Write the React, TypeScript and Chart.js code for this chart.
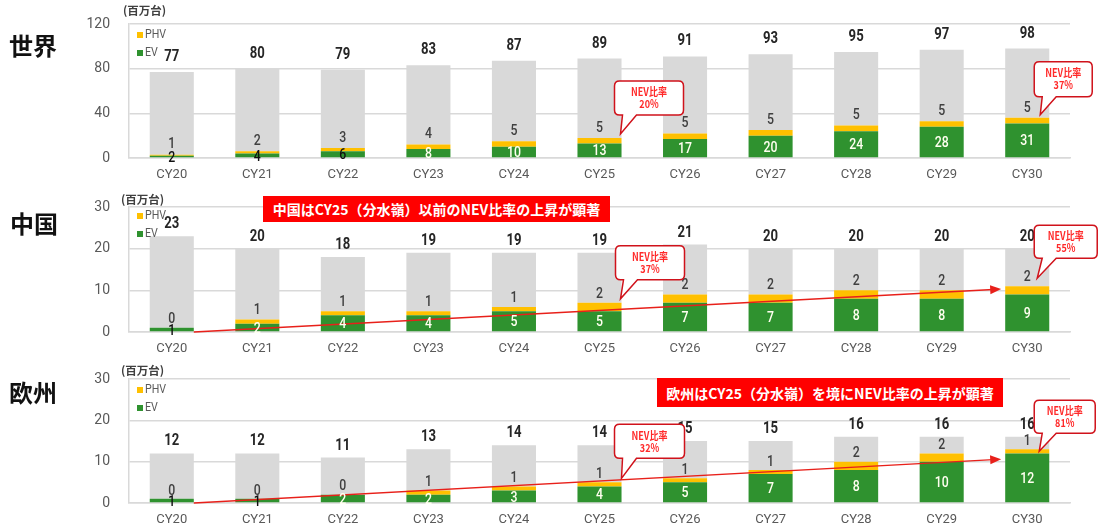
import React, { useEffect, useRef } from "react";
import { Chart, registerables } from "chart.js";

Chart.register(...registerables);

// ---------- data ----------
const categories = ["CY20", "CY21", "CY22", "CY23", "CY24", "CY25", "CY26", "CY27", "CY28", "CY29", "CY30"];

const worldTotal = [77, 80, 79, 83, 87, 89, 91, 93, 95, 97, 98];
const worldPHV = [1, 2, 3, 4, 5, 5, 5, 5, 5, 5, 5];
const worldEV = [2, 4, 6, 8, 10, 13, 17, 20, 24, 28, 31];

const chinaTotal = [23, 20, 18, 19, 19, 19, 21, 20, 20, 20, 20];
const chinaPHV = [0, 1, 1, 1, 1, 2, 2, 2, 2, 2, 2];
const chinaEV = [1, 2, 4, 4, 5, 5, 7, 7, 8, 8, 9];

const europeTotal = [12, 12, 11, 13, 14, 14, 15, 15, 16, 16, 16];
const europePHV = [0, 0, 0, 1, 1, 1, 1, 1, 2, 2, 1];
const europeEV = [1, 1, 2, 2, 3, 4, 5, 7, 8, 10, 12];

const worldNevRatio = ["20%", "37%"]; // CY25, CY30
const chinaNevRatio = ["37%", "55%"];
const europeNevRatio = ["32%", "81%"];

const chinaArrowEnd = 10.3; // value level at CY30 where the trend arrow ends
const europeArrowEnd = 10.6;

const chinaBanner = "中国はCY25（分水嶺）以前のNEV比率の上昇が顕著";
const europeBanner = "欧州はCY25（分水嶺）を境にNEV比率の上昇が顕著";

// ---------- styles ----------
const GREEN = "#2F922F";
const YELLOW = "#FFC000";
const GRAY = "#D9D9D9";
const GRID = "#D9D9D9";
const TICK = "#595959";
const SANS = "Roboto, 'Noto Sans', sans-serif";
const CJK = "'Noto Sans CJK JP','Noto Sans CJK SC',sans-serif";
const SQUEEZE = 0.82;

type Callout = { idx: number; text: string[]; dx: number; dy: number; w: number; h: number; tipDx: number; tipDy: number };
type Panel = {
  canvasTop: number;
  height: number;
  areaTop: number;
  areaBottom: number;
  yMax: number;
  yStep: number;
  total: number[];
  phv: number[];
  ev: number[];
  totalOffset: number;
  phvOffset: number;
  legendDy: number;
  callouts: Callout[];
  arrowEnd?: number;
};

// plot area (page coords): world 24-158, china 207-332, europe 379-503
const panels: Panel[] = [
  {
    canvasTop: -4, height: 190, areaTop: 28, areaBottom: 162, yMax: 120, yStep: 40,
    total: worldTotal, phv: worldPHV, ev: worldEV, totalOffset: 15, phvOffset: 10, legendDy: 11,
    callouts: [
      { idx: 5, text: ["NEV比率", worldNevRatio[0]], dx: 15, dy: -57, w: 69, h: 34, tipDx: 21, tipDy: -4 },
      { idx: 10, text: ["NEV比率", worldNevRatio[1]], dx: 7, dy: -56, w: 58, h: 35, tipDx: 13, tipDy: -3 },
    ],
  },
  {
    canvasTop: 179, height: 181, areaTop: 28, areaBottom: 153, yMax: 30, yStep: 10,
    total: chinaTotal, phv: chinaPHV, ev: chinaEV, totalOffset: 12, phvOffset: 9, legendDy: 9,
    callouts: [
      { idx: 5, text: ["NEV比率", chinaNevRatio[0]], dx: 16, dy: -57, w: 69, h: 34, tipDx: 21, tipDy: -4 },
      { idx: 10, text: ["NEV比率", chinaNevRatio[1]], dx: 7, dy: -61, w: 63, h: 33, tipDx: 10, tipDy: -8 },
    ],
    arrowEnd: chinaArrowEnd,
  },
  {
    canvasTop: 351, height: 180, areaTop: 28, areaBottom: 152, yMax: 30, yStep: 10,
    total: europeTotal, phv: europePHV, ev: europeEV, totalOffset: 12, phvOffset: 8, legendDy: 11,
    callouts: [
      { idx: 5, text: ["NEV比率", europeNevRatio[0]], dx: 15, dy: -58, w: 70, h: 34, tipDx: 22, tipDy: -4 },
      { idx: 10, text: ["NEV比率", europeNevRatio[1]], dx: 7, dy: -49, w: 61, h: 33, tipDx: 12, tipDy: 2 },
    ],
    arrowEnd: europeArrowEnd,
  },
];

function squeezeText(ctx: CanvasRenderingContext2D, text: string, x: number, y: number, sx = SQUEEZE) {
  ctx.save();
  ctx.translate(x, y);
  ctx.scale(sx, 1);
  ctx.fillText(text, 0, 0);
  ctx.restore();
}

function overlayPlugin(p: Panel) {
  return {
    id: "overlay",
    afterDatasetsDraw(chart: any) {
      const ctx = chart.ctx as CanvasRenderingContext2D;
      const xs = chart.scales.x;
      const ys = chart.scales.y;
      const area = chart.chartArea;
      const meta = chart.getDatasetMeta(0);
      const barW = meta.data[0] ? meta.data[0].width : 44;

      // trend arrow
      if (p.arrowEnd !== undefined) {
        const x0 = xs.getPixelForValue(0) + barW / 2;
        const y0 = ys.getPixelForValue(0);
        const x1 = xs.getPixelForValue(categories.length - 1) - barW / 2 - 4;
        const y1 = ys.getPixelForValue(p.arrowEnd);
        const ang = Math.atan2(y1 - y0, x1 - x0);
        ctx.save();
        ctx.strokeStyle = "#E8201A";
        ctx.fillStyle = "#E8201A";
        ctx.lineWidth = 1.3;
        ctx.beginPath();
        ctx.moveTo(x0, y0);
        ctx.lineTo(x1 - 8 * Math.cos(ang), y1 - 8 * Math.sin(ang));
        ctx.stroke();
        ctx.beginPath();
        ctx.moveTo(x1, y1);
        ctx.lineTo(x1 - 11 * Math.cos(ang) + 4.5 * Math.sin(ang), y1 - 11 * Math.sin(ang) - 4.5 * Math.cos(ang));
        ctx.lineTo(x1 - 11 * Math.cos(ang) - 4.5 * Math.sin(ang), y1 - 11 * Math.sin(ang) + 4.5 * Math.cos(ang));
        ctx.closePath();
        ctx.fill();
        ctx.restore();
      }

      // value labels
      ctx.save();
      ctx.textAlign = "center";
      ctx.textBaseline = "middle";
      for (let i = 0; i < categories.length; i++) {
        const x = xs.getPixelForValue(i);
        const y0 = ys.getPixelForValue(0);
        const yEv = ys.getPixelForValue(p.ev[i]);
        const yPhv = ys.getPixelForValue(p.ev[i] + p.phv[i]);
        const yTot = ys.getPixelForValue(p.total[i]);
        ctx.font = `500 15px ${SANS}`;
        ctx.fillStyle = y0 - yEv >= 8 ? "#FFFFF0" : "#111111";
        squeezeText(ctx, String(p.ev[i]), x, (y0 + yEv) / 2 + 1);
        ctx.fillStyle = "#404040";
        squeezeText(ctx, String(p.phv[i]), x, yPhv - p.phvOffset);
        ctx.font = `bold 16px ${SANS}`;
        ctx.fillStyle = "#262626";
        squeezeText(ctx, String(p.total[i]), x, yTot - p.totalOffset);
      }
      ctx.restore();

      // legend
      ctx.save();
      const lx = area.left + 8;
      const ly = area.top + p.legendDy;
      ctx.font = `13px ${SANS}`;
      ctx.textBaseline = "middle";
      ctx.textAlign = "left";
      ctx.fillStyle = YELLOW;
      ctx.fillRect(lx, ly - 3, 6, 6);
      ctx.fillStyle = GREEN;
      ctx.fillRect(lx, ly + 15, 6, 6);
      ctx.fillStyle = TICK;
      squeezeText(ctx, "PHV", lx + 8, ly);
      squeezeText(ctx, "EV", lx + 8, ly + 18);
      ctx.restore();

      // callouts
      for (const c of p.callouts) {
        const cx = xs.getPixelForValue(c.idx);
        const yTop = ys.getPixelForValue(p.ev[c.idx] + p.phv[c.idx]);
        const bx = cx + c.dx;
        const by = yTop + c.dy;
        const tx = cx + c.tipDx;
        const ty = yTop + c.tipDy;
        const r = 5;
        const bl = bx + 8;
        const br = bx + 22;
        ctx.save();
        ctx.beginPath();
        ctx.moveTo(bx + r, by);
        ctx.lineTo(bx + c.w - r, by);
        ctx.quadraticCurveTo(bx + c.w, by, bx + c.w, by + r);
        ctx.lineTo(bx + c.w, by + c.h - r);
        ctx.quadraticCurveTo(bx + c.w, by + c.h, bx + c.w - r, by + c.h);
        ctx.lineTo(br, by + c.h);
        ctx.lineTo(tx, ty);
        ctx.lineTo(bl, by + c.h);
        ctx.lineTo(bx + r, by + c.h);
        ctx.quadraticCurveTo(bx, by + c.h, bx, by + c.h - r);
        ctx.lineTo(bx, by + r);
        ctx.quadraticCurveTo(bx, by, bx + r, by);
        ctx.closePath();
        ctx.fillStyle = "#FFFFFF";
        ctx.fill();
        ctx.strokeStyle = "#D0121B";
        ctx.lineWidth = 1.5;
        ctx.stroke();
        ctx.fillStyle = "#FF2A2A";
        ctx.font = `bold 11px ${CJK}`;
        ctx.textAlign = "center";
        ctx.textBaseline = "middle";
        squeezeText(ctx, c.text[0], bx + c.w / 2, by + c.h / 2 - 6, 0.82);
        squeezeText(ctx, c.text[1], bx + c.w / 2, by + c.h / 2 + 6, 0.82);
        ctx.restore();
      }
    },
  };
}

function PanelChart({ p }: { p: Panel }) {
  const ref = useRef<HTMLCanvasElement | null>(null);
  useEffect(() => {
    if (!ref.current) return;
    const other = p.total.map((t, i) => t - p.ev[i] - p.phv[i]);
    const common = { stack: "s", barPercentage: 0.515, categoryPercentage: 1 };
    const xH = p.height - p.areaBottom;
    const chart = new Chart(ref.current, {
      type: "bar",
      data: {
        labels: categories,
        datasets: [
          { label: "EV", data: p.ev, backgroundColor: GREEN, ...common },
          { label: "PHV", data: p.phv, backgroundColor: YELLOW, ...common },
          { label: "その他", data: other, backgroundColor: GRAY, ...common },
        ],
      },
      options: {
        animation: false,
        responsive: false,
        maintainAspectRatio: false,
        layout: { padding: { left: 0, right: 31, top: p.areaTop, bottom: 0 } },
        plugins: { legend: { display: false }, tooltip: { enabled: false } },
        scales: {
          x: {
            stacked: true,
            grid: { display: false, drawTicks: false },
            border: { display: true, color: GRID, width: 1.5 },
            ticks: { color: TICK, font: { family: SANS, size: 13 }, padding: 9, maxRotation: 0, autoSkip: false },
            afterFit: (s: any) => {
              s.height = xH;
            },
          },
          y: {
            stacked: true,
            min: 0,
            max: p.yMax,
            ticks: { stepSize: p.yStep, color: TICK, font: { family: SANS, size: 14 }, padding: 19 },
            grid: { color: GRID, lineWidth: 1.5, drawTicks: false },
            border: { display: true, color: GRID, width: 1.5 },
            afterFit: (s: any) => {
              s.width = 129;
            },
          },
        },
      } as any,
      plugins: [overlayPlugin(p)],
    });
    return () => chart.destroy();
  }, [p]);
  return (
    <canvas
      ref={ref}
      width={1101}
      height={p.height}
      style={{ position: "absolute", left: 0, top: p.canvasTop, width: 1101, height: p.height }}
    />
  );
}

const titleStyle: React.CSSProperties = {
  position: "absolute",
  fontFamily: CJK,
  fontWeight: 700,
  fontSize: 24,
  lineHeight: "26px",
  color: "#111",
};
const unitStyle: React.CSSProperties = {
  position: "absolute",
  fontFamily: CJK,
  fontWeight: 700,
  fontSize: 11.5,
  lineHeight: "13px",
  color: "#404040",
  whiteSpace: "nowrap",
};
const bannerStyle: React.CSSProperties = {
  position: "absolute",
  background: "#FF0000",
  color: "#FFFFFF",
  fontFamily: CJK,
  fontWeight: 700,
  fontSize: 14,
  display: "flex",
  alignItems: "center",
  justifyContent: "center",
  whiteSpace: "nowrap",
};

export default function App() {
  useEffect(() => {
    document.body.style.margin = "0";
  }, []);
  return (
    <div style={{ position: "relative", width: 1101, height: 526, background: "#fff", overflow: "hidden" }}>
      {panels.map((p, i) => (
        <PanelChart key={i} p={p} />
      ))}
      <div style={{ ...titleStyle, left: 9, top: 32 }}>世界</div>
      <div style={{ ...titleStyle, left: 10, top: 210 }}>中国</div>
      <div style={{ ...titleStyle, left: 9, top: 379 }}>欧州</div>
      <div style={{ ...unitStyle, left: 123, top: 4 }}>(百万台)</div>
      <div style={{ ...unitStyle, left: 121, top: 193 }}>(百万台)</div>
      <div style={{ ...unitStyle, left: 121, top: 364 }}>(百万台)</div>
      <div style={{ ...bannerStyle, left: 263, top: 196, width: 347, height: 26 }}>{chinaBanner}</div>
      <div style={{ ...bannerStyle, left: 657, top: 378, width: 346, height: 29 }}>{europeBanner}</div>
    </div>
  );
}
